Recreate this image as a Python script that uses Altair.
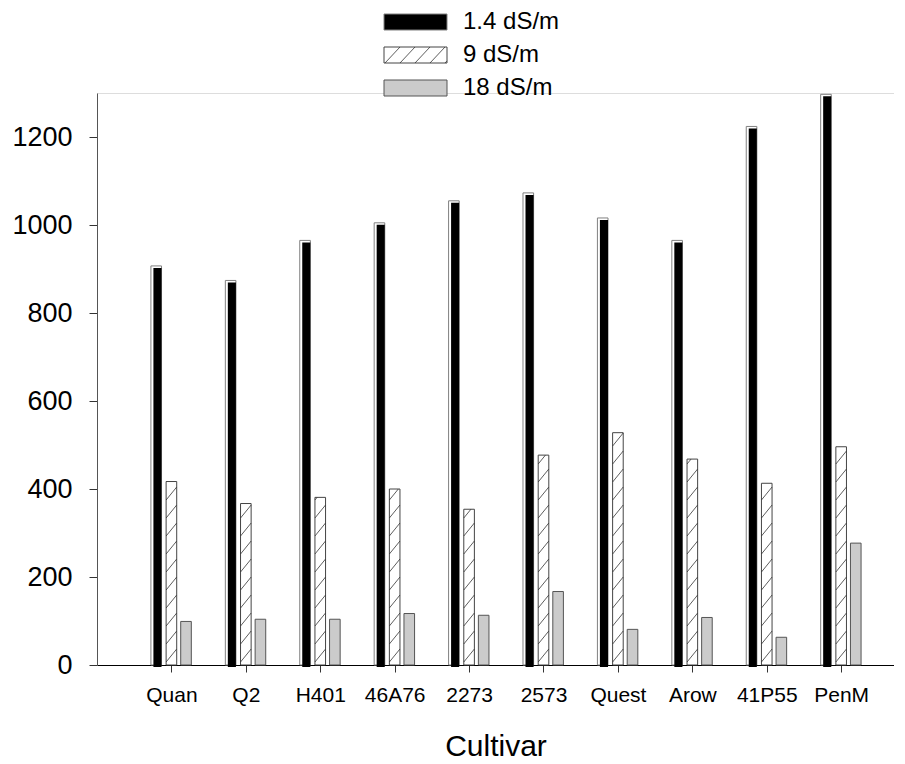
import json
import altair as alt
import pandas as pd

# ---------------- data ----------------
cultivars = ["Quan", "Q2", "H401", "46A76", "2273", "2573", "Quest", "Arow", "41P55", "PenM"]
series = ["1.4 dS/m", "9 dS/m", "18 dS/m"]
v_1_4 = [907, 874, 965, 1005, 1055, 1073, 1016, 965, 1224, 1297]
v_9 = [417, 367, 381, 400, 354, 477, 528, 468, 413, 496]
v_18 = [99, 104, 104, 117, 113, 167, 81, 108, 63, 277]
y_ticks = [0, 200, 400, 600, 800, 1000, 1200]

# ---------------- layout ----------------
W, H = 797, 572
XMAX, YMAX = 10.71, 1300
PXX = W / XMAX
PXY = H / YMAX
FONT = "Liberation Sans"


def px2x(p):
    return p / PXX


def px2y(p):
    return p / PXY


BAR_W = px2x(10.6)
OFFS = [px2x(-15.2), 0.0, px2x(14.6)]

rows = []
for j, (s, vals) in enumerate(zip(series, [v_1_4, v_9, v_18])):
    for i, (c, v) in enumerate(zip(cultivars, vals)):
        xc = i + 1 + OFFS[j]
        rows.append(dict(cultivar=c, series=s, value=v, zero=0,
                         x0=xc - BAR_W / 2, x1=xc + BAR_W / 2,
                         x0b=xc - BAR_W / 2 + px2x(2.5)))
df = pd.DataFrame(rows)
d_black = df[df.series == series[0]]
d_hatch = df[df.series == series[1]]
d_gray = df[df.series == series[2]]

# hatch segments for the 9 dS/m bars (clipped to each bar)
SP = px2y(18.0)
DY = px2y(13.0)
seg = []
for _, r in d_hatch.iterrows():
    k = -1
    while True:
        y0 = k * SP + px2y(3)
        if y0 > r.value:
            break
        t0 = max(0.0, (0 - y0) / DY)
        t1 = min(1.0, (r.value - y0) / DY)
        if t1 > t0:
            seg.append(dict(xa=r.x0 + t0 * (r.x1 - r.x0), xb=r.x0 + t1 * (r.x1 - r.x0),
                            ya=y0 + t0 * DY, yb=y0 + t1 * DY))
        k += 1
d_seg = pd.DataFrame(seg)

label_expr = json.dumps(cultivars) + "[datum.value - 1]"
xscale = alt.Scale(domain=[0, XMAX], nice=False, zero=False)
yscale = alt.Scale(domain=[0, YMAX], nice=False)
xaxis = alt.Axis(values=list(range(1, 11)), labelExpr=label_expr, title="Cultivar",
                 grid=False, domainColor="#000", tickColor="#333", tickSize=7,
                 labelFontSize=21, labelPadding=12, labelFont=FONT, labelColor="#000",
                 titleFontSize=30, titleFont=FONT, titleFontWeight="normal",
                 titleColor="#000", titlePadding=26)
yaxis = alt.Axis(values=y_ticks, format="d", title=None, grid=False, domainColor="#555",
                 tickColor="#333", tickSize=8, labelFontSize=27, labelFont=FONT,
                 labelColor="#000", labelPadding=17)


def X(f):
    return alt.X(f + ":Q", scale=xscale, axis=xaxis)


def Y(f):
    return alt.Y(f + ":Q", scale=yscale, axis=yaxis)


black_outline = alt.Chart(d_black).mark_bar(fill="white", stroke="#808080", strokeWidth=1).encode(
    x=X("x0"), x2="x1", y=Y("value"), y2="zero")
black_fill = alt.Chart(d_black).mark_bar(fill="black", yOffset=2, y2Offset=2).encode(
    x=X("x0b"), x2="x1", y=Y("value"), y2="zero")
hatch_bar = alt.Chart(d_hatch).mark_bar(fill="white", stroke="#444", strokeWidth=1).encode(
    x=X("x0"), x2="x1", y=Y("value"), y2="zero")
hatch_lines = alt.Chart(d_seg).mark_rule(color="#333", strokeWidth=0.8).encode(
    x=X("xa"), x2="xb", y=Y("ya"), y2="yb")
gray_bar = alt.Chart(d_gray).mark_bar(fill="#cbcbcb", stroke="#555", strokeWidth=1).encode(
    x=X("x0"), x2="x1", y=Y("value"), y2="zero")

main = alt.layer(black_outline, black_fill, hatch_bar, hatch_lines, gray_bar)

# ---------------- legend (pixel positions relative to plot origin) ----------------
LX0, LX1 = 287, 350
row_y = [-71, -38, -5]
SW_H = 16
sw = pd.DataFrame(dict(series=series, xa=[LX0] * 3, xb=[LX1] * 3,
                       ya=[r - SW_H / 2 for r in row_y], yb=[r + SW_H / 2 for r in row_y],
                       tx=[LX1 + 16] * 3, ty=row_y,
                       fill=["#000", "#fff", "#cbcbcb"], stroke=["#808080", "#444", "#555"]))
lsegs = []
for k in range(5):
    xa = LX0 + 1 + 15 * k
    xb = xa + 15
    ya, yb = row_y[1] + SW_H / 2, row_y[1] - SW_H / 2
    if xa >= LX1:
        break
    if xb > LX1:
        t = (LX1 - xa) / (xb - xa)
        yb = ya + t * (yb - ya)
        xb = LX1
    lsegs.append(dict(xa=xa, xb=xb, ya=ya, yb=yb))
d_lseg = pd.DataFrame(lsegs)

PX = dict(scale=None, axis=None)
leg_rect = alt.Chart(sw).mark_rect(strokeWidth=1).encode(
    x=alt.X("xa:Q", **PX), x2="xb", y=alt.Y("ya:Q", **PX), y2="yb",
    fill=alt.Fill("fill:N", scale=None), stroke=alt.Stroke("stroke:N", scale=None))
leg_lines = alt.Chart(d_lseg).mark_rule(color="#333", strokeWidth=0.8).encode(
    x=alt.X("xa:Q", **PX), x2="xb", y=alt.Y("ya:Q", **PX), y2="yb")
leg_text = alt.Chart(sw).mark_text(align="left", baseline="middle", fontSize=24,
                                   font=FONT, color="#000").encode(
    x=alt.X("tx:Q", **PX), y=alt.Y("ty:Q", **PX), text="series:N")
legend = alt.layer(leg_rect, leg_lines, leg_text)

chart = alt.layer(main, legend).resolve_scale(x="independent", y="independent").properties(
    width=W, height=H,
    autosize=alt.AutoSizeParams(type="none"),
    padding={"left": 89, "top": 85, "right": 0, "bottom": 98},
).configure_view(stroke=None).configure(background="white")

chart.save("out.html", embed_options={"renderer": "svg", "actions": False})
